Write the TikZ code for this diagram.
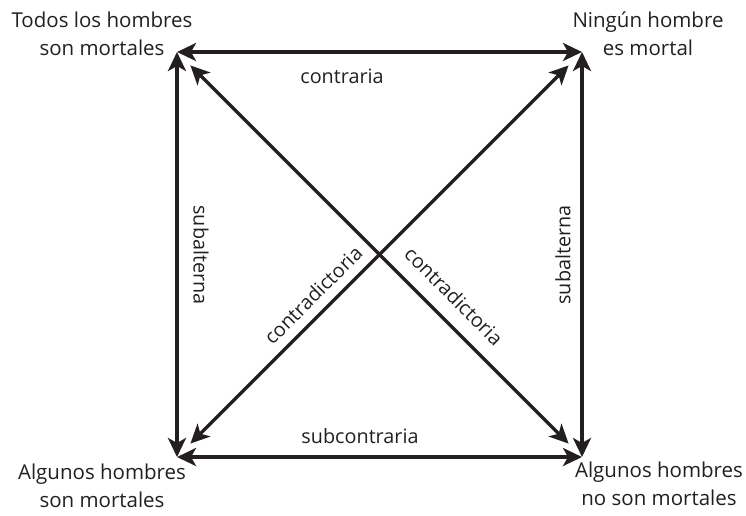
\documentclass[tikz,border=0pt]{standalone}
\usepackage{fontspec}
\setmainfont{Open Sans}
\usetikzlibrary{arrows.meta}
\definecolor{ink}{HTML}{231F20}
\tikzset{
  arr/.style={line width=3.4pt, draw=ink, {Stealth[length=19pt,width=18pt,inset=5pt]}-{Stealth[length=19pt,width=18pt,inset=5pt]}},
  corner/.style={align=center, font=\fontsize{20.5}{27.5}\selectfont, text=ink, inner sep=0pt},
  lab/.style={font=\fontsize{19.8}{22}\selectfont, text=ink, inner sep=0pt}
}
\begin{document}
\begin{tikzpicture}[x=1pt,y=-1pt]
\useasboundingbox (0,0) rectangle (746,515);
\coordinate (tl) at (177,52);
\coordinate (tr) at (582,52);
\coordinate (bl) at (177,457);
\coordinate (br) at (582,457);
\draw[arr] (tl) -- (tr);
\draw[arr] (bl) -- (br);
\draw[arr] (tl) -- (bl);
\draw[arr] (tr) -- (br);
\draw[arr, shorten <=19pt, shorten >=19pt] (tl) -- (br);
\draw[arr, shorten <=19pt, shorten >=19pt] (bl) -- (tr);
\node[corner, anchor=base] (ttl) at (102,55) {Todos los hombres\\son mortales};
\node[corner, anchor=base] (ttr) at (648,55) {Ningún hombre\\es mortal};
\node[corner, anchor=base] (tbl) at (102,507) {Algunos hombres\\son mortales};
\node[corner, anchor=base] (tbr) at (659,505) {Algunos hombres\\no son mortales};
\node[lab] (lc) at (342,76) {contraria};
\node[lab] (lsc) at (360,436) {subcontraria};
\node[lab, rotate=-90] (lsl) at (201,255) {subalterna};
\node[lab, rotate=90] (lsr) at (563,255) {subalterna};
\node[lab, rotate=45] (lcl) at (313,295) {contradictoria};
\node[lab, rotate=-45] (lcr) at (454,296) {contradictoria};
\end{tikzpicture}
\end{document}
